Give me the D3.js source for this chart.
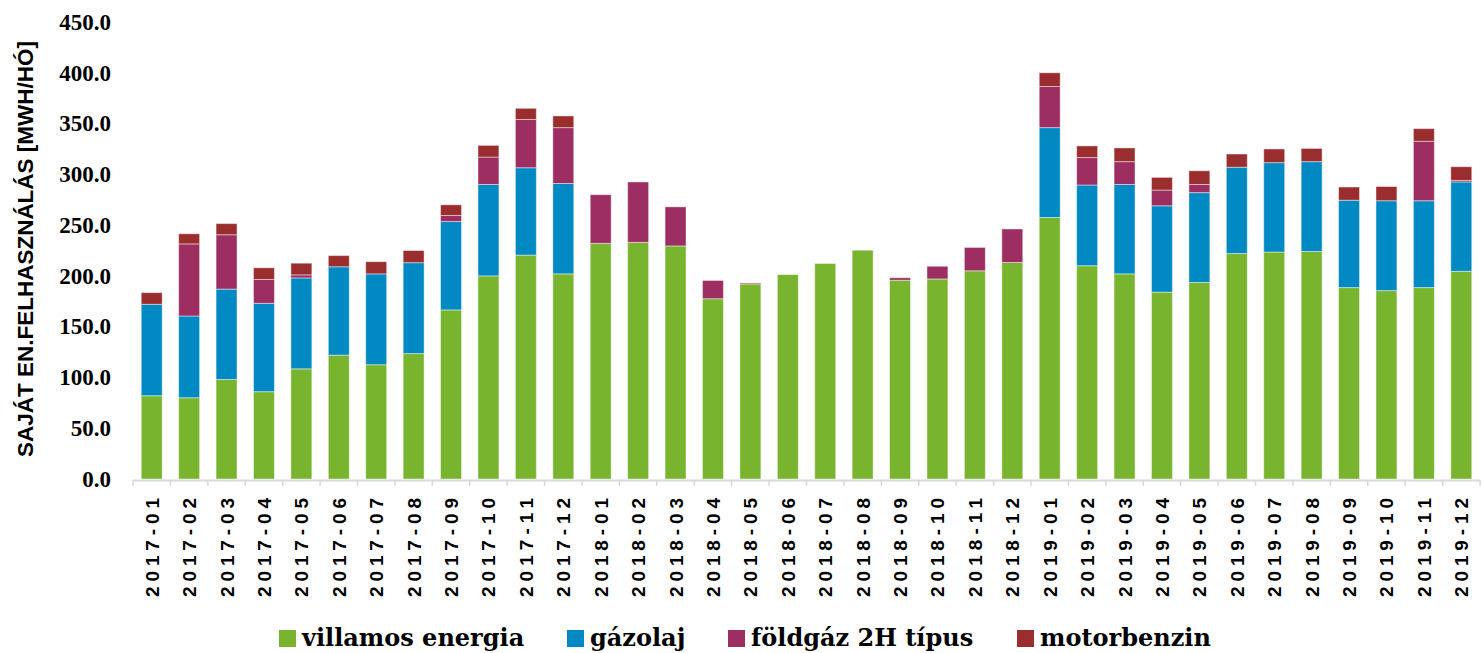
<!DOCTYPE html>
<html>
<head>
<meta charset="utf-8">
<script src="https://cdn.jsdelivr.net/npm/d3@7"></script>
<style>
  html, body { margin: 0; padding: 0; background: #fff; }
  svg { display: block; }
</style>
</head>
<body>
<svg id="chart" width="1483" height="653"></svg>
<script>
const categories = ["2017-01","2017-02","2017-03","2017-04","2017-05","2017-06","2017-07","2017-08","2017-09","2017-10","2017-11","2017-12",
  "2018-01","2018-02","2018-03","2018-04","2018-05","2018-06","2018-07","2018-08","2018-09","2018-10","2018-11","2018-12",
  "2019-01","2019-02","2019-03","2019-04","2019-05","2019-06","2019-07","2019-08","2019-09","2019-10","2019-11","2019-12"];

const villamos = [82,80,98,86,108.5,122,112.5,123.5,166.5,200,220.5,202,
  232,233,229.5,177.5,192,201.3,212.2,225.3,195.7,197,205,213.2,
  257.5,210,202,184,193.5,222,223.5,224,188.5,185.5,188.5,204.5];
const gazolaj = [90,80.5,89,87,89.5,87,89.5,89.5,87,90,86,89,
  0,0,0,0,0,0,0,0,0,0,0,0,
  88.5,79.5,88,85,88.5,85,88,88.5,86,88.5,85.5,88];
const foldgaz = [0,71,53.5,23.5,3,0,0,0,6,27,47.5,55,
  48,59.5,38.5,18,1,0,0,0,2.5,12.5,23,33,
  40.5,27,22.5,15.5,8,0,0,0,0,0,58.5,1.5];
const motorbenzin = [11.5,10,11,11.5,11.5,11,12,12,10.5,11.5,11,11.5,
  0,0,0,0,0,0,0,0,0,0,0,0,
  13.5,11.5,13.5,12.5,13.5,13,13.5,13,13,14,12.5,13.5];

const seriesNames = ["villamos energia","gázolaj","földgáz 2H típus","motorbenzin"];
const seriesColors = ["#78b42e","#0089c2","#9c2e62","#9a2d2d"];
const yTicks = [0,50,100,150,200,250,300,350,400,450];
const yTitle = "SAJÁT EN.FELHASZNÁLÁS [MWH/HÓ]";

const rows = categories.map((c,i) => ({
  cat: c,
  "villamos energia": villamos[i],
  "gázolaj": gazolaj[i],
  "földgáz 2H típus": foldgaz[i],
  "motorbenzin": motorbenzin[i]
}));

const svg = d3.select("#chart");
const x = d3.scaleBand().domain(categories).range([133, 1480]).paddingInner(0.44).paddingOuter(0.22);
const y = d3.scaleLinear().domain([0, 450]).range([479, 22]);
const color = d3.scaleOrdinal().domain(seriesNames).range(seriesColors);

const stacked = d3.stack().keys(seriesNames)(rows);

svg.append("g").selectAll("g").data(stacked).join("g")
  .attr("fill", d => color(d.key))
  .selectAll("rect").data(d => d.filter(p => p[1] - p[0] > 0)).join("rect")
  .attr("x", d => x(d.data.cat))
  .attr("width", x.bandwidth())
  .attr("y", d => y(d[1]))
  .attr("height", d => y(d[0]) - y(d[1]))
  .attr("stroke", "#ffffff")
  .attr("stroke-opacity", 0.45)
  .attr("stroke-width", 1);

// x axis line and ticks
const xAxisG = svg.append("g");
xAxisG.append("line")
  .attr("x1", 133).attr("x2", 1480).attr("y1", 480.5).attr("y2", 480.5)
  .attr("stroke", "#d9d9d9").attr("stroke-width", 2);
const tickXs = d3.range(categories.length + 1).map(i => 133 + i * x.step());
xAxisG.selectAll("line.tk").data(tickXs).join("line")
  .attr("class","tk")
  .attr("x1", d => d).attr("x2", d => d)
  .attr("y1", 480).attr("y2", 486)
  .attr("stroke", "#d9d9d9").attr("stroke-width", 1.5);

xAxisG.selectAll("text").data(categories).join("text")
  .attr("transform", d => `translate(${x(d) + x.bandwidth()/2 + 7},498) rotate(-90)`)
  .attr("text-anchor", "end")
  .attr("font-family", "'Liberation Sans', Arial, sans-serif")
  .attr("font-weight", "bold")
  .attr("font-size", 19)
  .attr("textLength", 99)
  .attr("lengthAdjust", "spacing")
  .attr("fill", "#000")
  .text(d => d);

// y axis labels
svg.append("g").selectAll("text").data(yTicks).join("text")
  .attr("x", 111)
  .attr("y", d => y(d))
  .attr("dy", "0.34em")
  .attr("text-anchor", "end")
  .attr("font-family", "'Liberation Serif', 'Times New Roman', serif")
  .attr("font-weight", "bold")
  .attr("font-size", 23)
  .attr("fill", "#000")
  .text(d => d3.format(".1f")(d));

// y title
svg.append("text")
  .attr("transform", "translate(33,249) rotate(-90)")
  .attr("text-anchor", "middle")
  .attr("font-family", "'Liberation Sans', Arial, sans-serif")
  .attr("font-weight", "bold")
  .attr("font-size", 22)
  .attr("textLength", 416)
  .attr("lengthAdjust", "spacingAndGlyphs")
  .attr("fill", "#000")
  .text(yTitle);

// legend
const legendX = [279, 567, 728, 1017];
const lg = svg.append("g").selectAll("g").data(seriesNames).join("g")
  .attr("transform", (d,i) => `translate(${legendX[i]},630)`);
lg.append("rect").attr("width", 17).attr("height", 17).attr("fill", d => color(d));
lg.append("text")
  .attr("x", 23).attr("y", 16)
  .attr("font-family", "'DejaVu Serif', serif")
  .attr("font-weight", "bold")
  .attr("font-size", 24)
  .attr("fill", "#000")
  .text(d => d);
</script>
</body>
</html>
